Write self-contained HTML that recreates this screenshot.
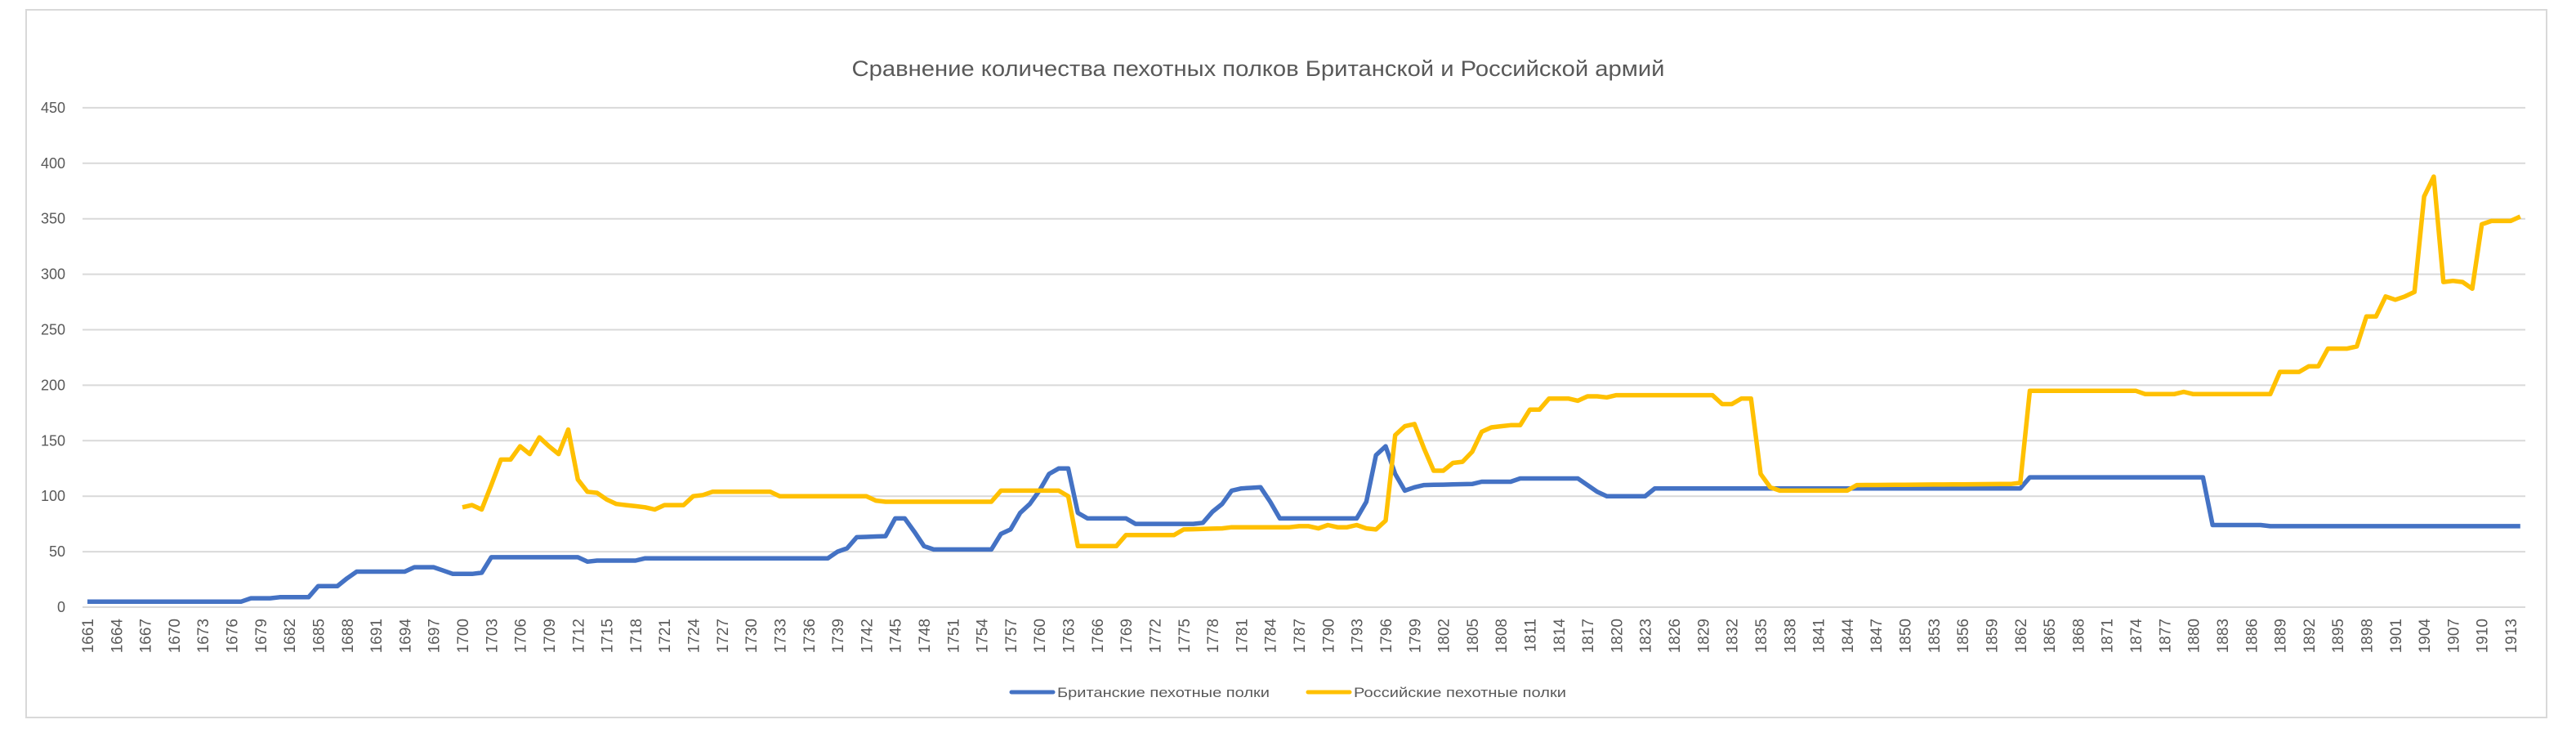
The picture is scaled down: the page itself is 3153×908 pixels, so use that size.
<!DOCTYPE html>
<html><head><meta charset="utf-8">
<style>html,body{margin:0;padding:0;background:#fff;}svg{display:block;}</style>
</head><body>
<svg id="s" xmlns="http://www.w3.org/2000/svg" width="3153" height="908" viewBox="0 0 3153 908" font-family="Liberation Sans, sans-serif">
<rect x="0" y="0" width="3153" height="908" fill="#fff"/>
<rect x="32" y="12" width="3085" height="866" fill="none" stroke="#d9d9d9" stroke-width="2"/>
<text x="1540" y="93" text-anchor="middle" font-size="27" fill="#595959" textLength="995" lengthAdjust="spacingAndGlyphs">Сравнение количества пехотных полков Британской и Российской армий</text>
<g id="grid" stroke="#d9d9d9" stroke-width="2"></g>
<g id="ylab" font-size="18" fill="#595959" text-anchor="end"></g>
<g id="xlab" font-size="19" fill="#595959" text-anchor="end"></g>
<polyline id="blue" fill="none" stroke="#4472C4" stroke-width="5.5" stroke-linejoin="round"/>
<polyline id="yel" fill="none" stroke="#FFC000" stroke-width="5.5" stroke-linejoin="round"/>
<line x1="1238" y1="847" x2="1289" y2="847" stroke="#4472C4" stroke-width="5" stroke-linecap="round"/>
<text x="1294" y="853" font-size="17" fill="#595959" textLength="260" lengthAdjust="spacingAndGlyphs">Британские пехотные полки</text>
<line x1="1601" y1="847" x2="1652" y2="847" stroke="#FFC000" stroke-width="5" stroke-linecap="round"/>
<text x="1657" y="853" font-size="17" fill="#595959" textLength="260" lengthAdjust="spacingAndGlyphs">Российские пехотные полки</text>
</svg>
<script>
var NS="http://www.w3.org/2000/svg";
function X(yr){return 107+(yr-1661)*11.77;}
function Y(v){return 743-v*1.358;}
var g=document.getElementById('grid'),yl=document.getElementById('ylab'),xl=document.getElementById('xlab');
for(var v=0;v<=450;v+=50){
 var l=document.createElementNS(NS,'line');l.setAttribute('x1',101);l.setAttribute('x2',3091);l.setAttribute('y1',Y(v));l.setAttribute('y2',Y(v));g.appendChild(l);
 var t=document.createElementNS(NS,'text');t.setAttribute('x',80);t.setAttribute('y',Y(v)+6);t.textContent=v;yl.appendChild(t);
}
for(var yr=1661;yr<=1913;yr+=3){
 var t=document.createElementNS(NS,'text');var x=X(yr)+7;
 t.setAttribute('transform','translate('+x+',757) rotate(-90)');t.setAttribute('x',0);t.setAttribute('y',0);t.textContent=yr;xl.appendChild(t);
}
function build(k){
 var pts=[];
 for(var i=0;i<k.length-1;i++){
  var a=k[i],b=k[i+1];
  for(var yr=a[0];yr<b[0];yr++){var v=a[1]+(b[1]-a[1])*(yr-a[0])/(b[0]-a[0]);pts.push(X(yr).toFixed(1)+','+Y(v).toFixed(1));}
 }
 var e=k[k.length-1];pts.push(X(e[0]).toFixed(1)+','+Y(e[1]).toFixed(1));
 return pts.join(' ');
}
var B=[[1661,5],[1677,5],[1678,8],[1680,8],[1681,9],[1684,9],[1685,19],[1687,19],[1688,26],[1689,32],[1694,32],[1695,36],[1697,36],[1698,33],[1699,30],[1701,30],[1702,31],[1703,45],[1712,45],[1713,41],[1714,42],[1718,42],[1719,44],[1738,44],[1739,50],[1740,53],[1741,63],[1744,64],[1745,80],[1746,80],[1747,68],[1748,55],[1749,52],[1755,52],[1756,66],[1757,70],[1758,85],[1759,93],[1760,105],[1761,120],[1762,125],[1763,125],[1764,85],[1765,80],[1769,80],[1770,75],[1776,75],[1777,76],[1778,86],[1779,93],[1780,105],[1781,107],[1783,108],[1784,95],[1785,80],[1793,80],[1794,95],[1795,137],[1796,145],[1797,120],[1798,105],[1799,108],[1800,110],[1805,111],[1806,113],[1809,113],[1810,116],[1816,116],[1817,110],[1818,104],[1819,100],[1823,100],[1824,107],[1862,107],[1863,117],[1881,117],[1882,74],[1887,74],[1888,73],[1914,73]];
var R=[[1700,90],[1701,92],[1702,88],[1703,110],[1704,133],[1705,133],[1706,145],[1707,138],[1708,153],[1709,145],[1710,138],[1711,160],[1712,115],[1713,104],[1714,103],[1715,97],[1716,93],[1717,92],[1719,90],[1720,88],[1721,92],[1723,92],[1724,100],[1725,101],[1726,104],[1732,104],[1733,100],[1742,100],[1743,96],[1744,95],[1755,95],[1756,105],[1762,105],[1763,100],[1764,55],[1768,55],[1769,65],[1774,65],[1775,70],[1779,71],[1780,72],[1786,72],[1787,73],[1788,73],[1789,71],[1790,74],[1791,72],[1792,72],[1793,74],[1794,71],[1795,70],[1796,78],[1797,155],[1798,163],[1799,165],[1800,143],[1801,123],[1802,123],[1803,130],[1804,131],[1805,140],[1806,158],[1807,162],[1808,163],[1809,164],[1810,164],[1811,178],[1812,178],[1813,188],[1815,188],[1816,186],[1817,190],[1818,190],[1819,189],[1820,191],[1830,191],[1831,183],[1832,183],[1833,188],[1834,188],[1835,120],[1836,108],[1837,105],[1844,105],[1845,110],[1861,111],[1862,112],[1863,195],[1874,195],[1875,192],[1878,192],[1879,194],[1880,192],[1888,192],[1889,212],[1891,212],[1892,217],[1893,217],[1894,233],[1896,233],[1897,235],[1898,262],[1899,262],[1900,280],[1901,277],[1902,280],[1903,284],[1904,370],[1905,388],[1906,293],[1907,294],[1908,293],[1909,287],[1910,345],[1911,348],[1913,348],[1914,352]];
document.getElementById('blue').setAttribute('points',build(B));
document.getElementById('yel').setAttribute('points',build(R));
</script>
</body></html>
